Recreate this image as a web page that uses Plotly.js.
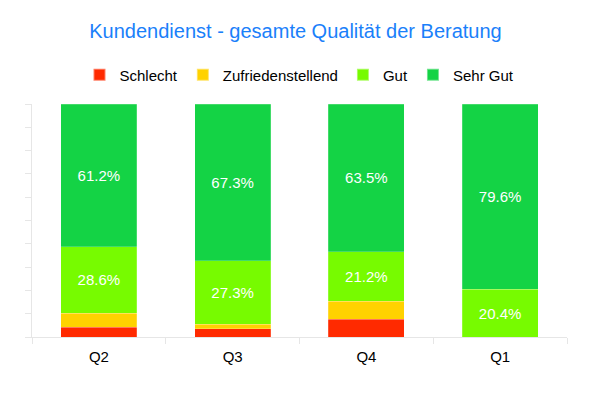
<!DOCTYPE html>
<html>
<head>
<meta charset="utf-8">
<script src="https://cdn.plot.ly/plotly-3.0.1.min.js"></script>
<style>html,body{margin:0;padding:0;background:#fff;}#chart{width:591px;height:393px;}</style>
</head>
<body>
<div id="chart"></div>
<script>
const categories = ["Q2", "Q3", "Q4", "Q1"];
const seriesNames = ["Schlecht", "Zufriedenstellend", "Gut", "Sehr Gut"];
const schlecht = [4.1, 3.6, 7.7, 0];
const zufriedenstellend = [6.1, 1.8, 7.6, 0];
const gut = [28.6, 27.3, 21.2, 20.4];
const sehrGut = [61.2, 67.3, 63.5, 79.6];
const showLabel = [false, false, true, true];
const colors = ["#ff2a00", "#ffd200", "#77fb00", "#14d345"];

const allValues = [schlecht, zufriedenstellend, gut, sehrGut];
const traces = allValues.map((vals, i) => ({
  type: "bar",
  name: seriesNames[i],
  x: categories,
  y: vals,
  marker: { color: colors[i], line: { width: 0.5, color: "rgba(255,255,255,0.4)" } },
  text: showLabel[i] ? vals.map(v => v.toFixed(1) + "%") : vals.map(() => ""),
  textposition: showLabel[i] ? "inside" : "none",
  insidetextanchor: "middle",
  textangle: 0,
  textfont: { color: "#ffffff", size: 15, family: "Liberation Sans, Arial, sans-serif" },
  hoverinfo: "x+y+name"
}));

const layout = {
  width: 591,
  height: 393,
  barmode: "stack",
  bargap: 0.43,
  margin: { l: 32, r: 24, t: 104, b: 56 },
  paper_bgcolor: "#ffffff",
  plot_bgcolor: "#ffffff",
  font: { family: "Liberation Sans, Arial, sans-serif", size: 15, color: "#000000" },
  title: {
    text: "Kundendienst - gesamte Qualität der Beratung",
    font: { size: 20, color: "#1a80fa", family: "Liberation Sans, Arial, sans-serif" },
    x: 0.5, xanchor: "center",
    xref: "container",
    y: 1 - 31 / 393, yanchor: "middle", yref: "container"
  },
  showlegend: true,
  legend: {
    orientation: "h",
    x: 0.5, xanchor: "center",
    y: 1 - 75 / 393, yanchor: "middle", yref: "container",
    traceorder: "normal",
    font: { size: 15, color: "#000000" },
    itemwidth: 30,
    itemsizing: "constant"
  },
  xaxis: {
    type: "category",
    showgrid: false,
    showline: true,
    linecolor: "#e6e6e6",
    linewidth: 1,
    ticks: "outside",
    tickson: "boundaries",
    ticklen: 6,
    tickcolor: "#e6e6e6",
    ticklabelstandoff: 6,
    tickfont: { size: 15, color: "#000000" },
    zeroline: false
  },
  yaxis: {
    range: [0, 100],
    dtick: 10,
    showgrid: false,
    showline: true,
    linecolor: "#e6e6e6",
    linewidth: 1,
    ticks: "outside",
    ticklen: 6,
    tickcolor: "#e6e6e6",
    showticklabels: false,
    zeroline: false
  }
};

Plotly.newPlot("chart", traces, layout, { displayModeBar: false, staticPlot: true });
</script>
</body>
</html>
